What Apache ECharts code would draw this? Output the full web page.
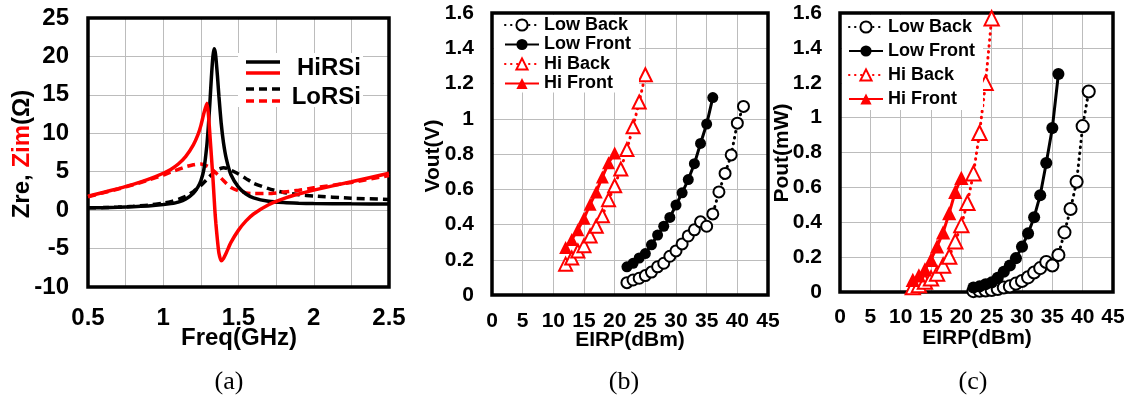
<!DOCTYPE html>
<html><head><meta charset="utf-8">
<script src="https://cdn.jsdelivr.net/npm/echarts@6/dist/echarts.min.js"></script>
<style>html,body{margin:0;padding:0;background:#fff}#c{width:1130px;height:398px}</style>
</head><body><div id="c"></div>
<script>
// ---------- Panel (a): impedance vs frequency ----------
const freq = [0.5,0.6,0.7,0.8,0.9,1.0,1.05,1.1,1.15,1.2,1.23,1.25,1.27,1.29,1.30,1.31,1.32,1.33,1.338,1.345,1.35,1.36,1.37,1.385,1.40,1.42,1.45,1.5,1.55,1.6,1.7,1.8,1.9,2.0,2.25,2.5];
const hiRSiRe = [0.3,0.32,0.37,0.44,0.55,0.72,0.85,1.05,1.45,2.2,3.0,3.8,5.3,8.5,11,14,17.3,20,21,20.6,19.8,17.5,14.8,11.3,8.8,6.6,4.6,3.0,2.1,1.6,1.15,0.98,0.9,0.86,0.82,0.8];
const hiRSiIm = [1.8,2.3,2.8,3.35,4.0,4.8,5.3,6.0,7.0,8.5,9.8,11,12.6,13.9,12.5,9.8,7.0,4.2,1.6,-0.6,-1.8,-3.9,-5.6,-6.6,-6.3,-5.5,-4.2,-2.6,-1.4,-0.5,0.7,1.5,2.1,2.6,3.7,4.8];
const loRSiRe = [0.3,0.33,0.4,0.5,0.65,0.9,1.1,1.4,1.8,2.4,2.9,3.2,3.6,4.0,4.2,4.4,4.6,4.8,4.95,5.05,5.1,5.25,5.35,5.45,5.5,5.45,5.2,4.7,4.1,3.5,2.8,2.3,2.0,1.85,1.55,1.4];
const loRSiIm = [1.75,2.25,2.75,3.3,3.9,4.55,4.95,5.3,5.65,5.9,6.0,6.0,5.9,5.75,5.65,5.5,5.35,5.2,5.05,4.95,4.85,4.65,4.45,4.15,3.85,3.45,2.95,2.5,2.25,2.15,2.15,2.35,2.6,2.9,3.6,4.5];

// ---------- Panels (b),(c): EIRP sweeps ----------
const lowBackEirp  = [22,23,24,25,26,27,28,29,30,31,32,33,34,35,36,37,38,39,40,41];
const lowBackVout  = [0.07,0.085,0.095,0.11,0.13,0.16,0.18,0.22,0.25,0.29,0.335,0.37,0.415,0.39,0.46,0.585,0.69,0.795,0.975,1.07];
const lowBackPout  = [0.005,0.007,0.009,0.012,0.017,0.026,0.032,0.048,0.063,0.084,0.112,0.137,0.172,0.152,0.212,0.342,0.476,0.632,0.951,1.15];
const lowFrontEirp = [22,23,24,25,26,27,28,29,30,31,32,33,34,35,36];
const lowFrontVout = [0.16,0.18,0.21,0.235,0.285,0.34,0.39,0.44,0.51,0.58,0.655,0.745,0.86,0.97,1.12];
const lowFrontPout = [0.026,0.032,0.044,0.055,0.081,0.116,0.152,0.194,0.26,0.336,0.429,0.555,0.74,0.94,1.25];
const hiBackEirp   = [12,13,14,15,16,17,18,19,20,21,22,23,24,25];
const hiBackVout   = [0.175,0.21,0.25,0.28,0.335,0.39,0.45,0.54,0.62,0.715,0.825,0.955,1.095,1.25];
const hiBackPout   = [0.028,0.04,0.06,0.078,0.105,0.152,0.203,0.29,0.384,0.511,0.681,0.912,1.2,1.57];
const hiFrontEirp  = [12,13,14,15,16,17,18,19,20];
const hiFrontVout  = [0.27,0.315,0.37,0.435,0.515,0.585,0.67,0.75,0.805];
const hiFrontPout  = [0.07,0.095,0.13,0.185,0.262,0.342,0.452,0.575,0.655];

const legendNames = ['Low Back','Low Front','Hi Back','Hi Front'];

const FONT = "'Liberation Sans', Arial, sans-serif";
const SERIF = "'Liberation Serif', 'Times New Roman', serif";
const GRIDC = '#bcbcbc';
const RED = '#ff0000';

function pairs(xs, ys){ return xs.map((x,i)=>[x, ys[i]]); }

function xAx(idx, min, max, interval, fs, margin, fmt){
  return {type:'value', gridIndex:idx, min, max, interval,
    axisLine:{show:false}, axisTick:{show:false},
    axisLabel:{fontSize:fs, fontWeight:'bold', color:'#000', fontFamily:FONT, margin, formatter:fmt},
    splitLine:{show:true, lineStyle:{color:GRIDC, width:1}}};
}
function yAx(idx, min, max, interval, fs, margin){
  return {type:'value', gridIndex:idx, min, max, interval,
    axisLine:{show:false}, axisTick:{show:false},
    axisLabel:{fontSize:fs, fontWeight:'bold', color:'#000', fontFamily:FONT, margin},
    splitLine:{show:true, lineStyle:{color:GRIDC, width:1}}};
}

const DOT = [0.5, 5.5];
function eirpSeries(ax, symScale){
  const V = ax === 1;
  return [
    {name:'Low Back', type:'line', xAxisIndex:ax, yAxisIndex:ax,
     data:pairs(lowBackEirp, V?lowBackVout:lowBackPout),
     symbol:'circle', symbolSize:11*symScale,
     itemStyle:{color:'#fff', borderColor:'#000', borderWidth:2},
     lineStyle:{color:'#000', width:3, type:DOT, cap:'round'}, z:3},
    {name:'Low Front', type:'line', xAxisIndex:ax, yAxisIndex:ax,
     data:pairs(lowFrontEirp, V?lowFrontVout:lowFrontPout),
     symbol:'circle', symbolSize:11*symScale,
     itemStyle:{color:'#000', borderColor:'#000', borderWidth:0},
     lineStyle:{color:'#000', width:3}, z:3},
    {name:'Hi Back', type:'line', xAxisIndex:ax, yAxisIndex:ax,
     data:pairs(hiBackEirp, V?hiBackVout:hiBackPout),
     symbol:'triangle', symbolSize:13*symScale,
     itemStyle:{color:'#fff', borderColor:RED, borderWidth:2},
     lineStyle:{color:RED, width:3, type:DOT, cap:'round'}, z:3},
    {name:'Hi Front', type:'line', xAxisIndex:ax, yAxisIndex:ax,
     data:pairs(hiFrontEirp, V?hiFrontVout:hiFrontPout),
     symbol:'triangle', symbolSize:13*symScale,
     itemStyle:{color:RED, borderColor:RED, borderWidth:0},
     lineStyle:{color:RED, width:3}, z:3}
  ];
}

function aLine(ys, color, dashed){
  return {type:'line', xAxisIndex:0, yAxisIndex:0, data:pairs(freq, ys),
    symbol:'none', smooth:0.2, z:3,
    lineStyle:{color, width:3.5, type: dashed ? [8,5] : 'solid'}};
}

function legendFor(left, top, gap, pad){
  return {orient:'vertical', left, top, itemWidth:34, itemHeight:14, itemGap:gap,
    data:legendNames, selectedMode:false, backgroundColor:'#fff', padding:pad,
    textStyle:{fontSize:18, fontWeight:'bold', color:'#000', fontFamily:FONT, lineHeight:18}};
}

const bold = (fs)=>({fontSize:fs, fontWeight:'bold', fontFamily:FONT, fill:'#000'});

const option = {
  animation:false,
  backgroundColor:'#fff',
  grid:[
    {left:88, top:18, width:301, height:269, show:true, borderColor:'#000', borderWidth:3.5, z:1, outerBoundsMode:'none'},
    {left:492, top:13, width:276, height:282, show:true, borderColor:'#000', borderWidth:3.5, z:1, outerBoundsMode:'none'},
    {left:840, top:13, width:273, height:279, show:true, borderColor:'#000', borderWidth:3.5, z:1, outerBoundsMode:'none'}
  ],
  xAxis:[
    xAx(0, 0.5, 2.5, 0.25, 24, 19, v => (Math.round(v*100) % 50 === 0 ? String(v) : '')),
    xAx(1, 0, 45, 5, 21, 16),
    xAx(2, 0, 45, 5, 21, 15)
  ],
  yAxis:[
    yAx(0, -10, 25, 5, 24, 19),
    yAx(1, 0, 1.6, 0.2, 21, 18),
    yAx(2, 0, 1.6, 0.2, 21, 18)
  ],
  legend:[
    legendFor(494, 15, 1.5, [1, 8, 0, 10]),
    legendFor(842, 15, 6, [3, 8, 2, 6])
  ],
  series:[
    aLine(loRSiRe, '#000', true),
    aLine(loRSiIm, RED, true),
    aLine(hiRSiRe, '#000', false),
    aLine(hiRSiIm, RED, false),
    ...eirpSeries(1, 1),
    ...eirpSeries(2, 1.1)
  ],
  graphic:[
    // panel (a) legend
    {type:'rect', shape:{x:238, y:53, width:125, height:54}, style:{fill:'#fff'}, z:4},
    {type:'line', shape:{x1:246, y1:62, x2:280, y2:62}, style:{stroke:'#000', lineWidth:3.5}, z:5},
    {type:'line', shape:{x1:246, y1:73, x2:280, y2:73}, style:{stroke:RED, lineWidth:3.5}, z:5},
    {type:'line', shape:{x1:246, y1:89, x2:280, y2:89}, style:{stroke:'#000', lineWidth:3.5, lineDash:[8,5]}, z:5},
    {type:'line', shape:{x1:246, y1:101, x2:280, y2:101}, style:{stroke:RED, lineWidth:3.5, lineDash:[8,5]}, z:5},
    {type:'text', x:361, y:68, z:5, style:Object.assign({text:'HiRSi', align:'right', verticalAlign:'middle'}, bold(24))},
    {type:'text', x:361, y:97, z:5, style:Object.assign({text:'LoRSi', align:'right', verticalAlign:'middle'}, bold(24))},
    // axis titles
    {type:'text', x:22, y:154, rotation:Math.PI/2, z:5,
     style:{text:'{k|Zre, }{r|Zim}{k|(Ω)}', align:'center', verticalAlign:'middle',
       rich:{k:Object.assign({}, bold(24)), r:Object.assign({}, bold(24), {fill:RED})}}},
    {type:'text', x:239, y:338, z:5, style:Object.assign({text:'Freq(GHz)', align:'center', verticalAlign:'middle'}, bold(24))},
    {type:'text', x:433, y:156, rotation:Math.PI/2, z:5, style:Object.assign({text:'Vout(V)', align:'center', verticalAlign:'middle'}, bold(21))},
    {type:'text', x:630, y:340, z:5, style:Object.assign({text:'EIRP(dBm)', align:'center', verticalAlign:'middle'}, bold(21))},
    {type:'text', x:782, y:153, rotation:Math.PI/2, z:5, style:Object.assign({text:'Pout(mW)', align:'center', verticalAlign:'middle'}, bold(21))},
    {type:'text', x:977, y:338, z:5, style:Object.assign({text:'EIRP(dBm)', align:'center', verticalAlign:'middle'}, bold(21))},
    // captions
    {type:'text', x:229, y:382, z:5, style:{text:'(a)', align:'center', verticalAlign:'middle', fontSize:26, fontFamily:SERIF, fill:'#000'}},
    {type:'text', x:624, y:382, z:5, style:{text:'(b)', align:'center', verticalAlign:'middle', fontSize:26, fontFamily:SERIF, fill:'#000'}},
    {type:'text', x:973, y:382, z:5, style:{text:'(c)', align:'center', verticalAlign:'middle', fontSize:26, fontFamily:SERIF, fill:'#000'}}
  ]
};

const chart = echarts.init(document.getElementById('c'), null, {renderer:'canvas'});
chart.setOption(option);
</script>
</body></html>
